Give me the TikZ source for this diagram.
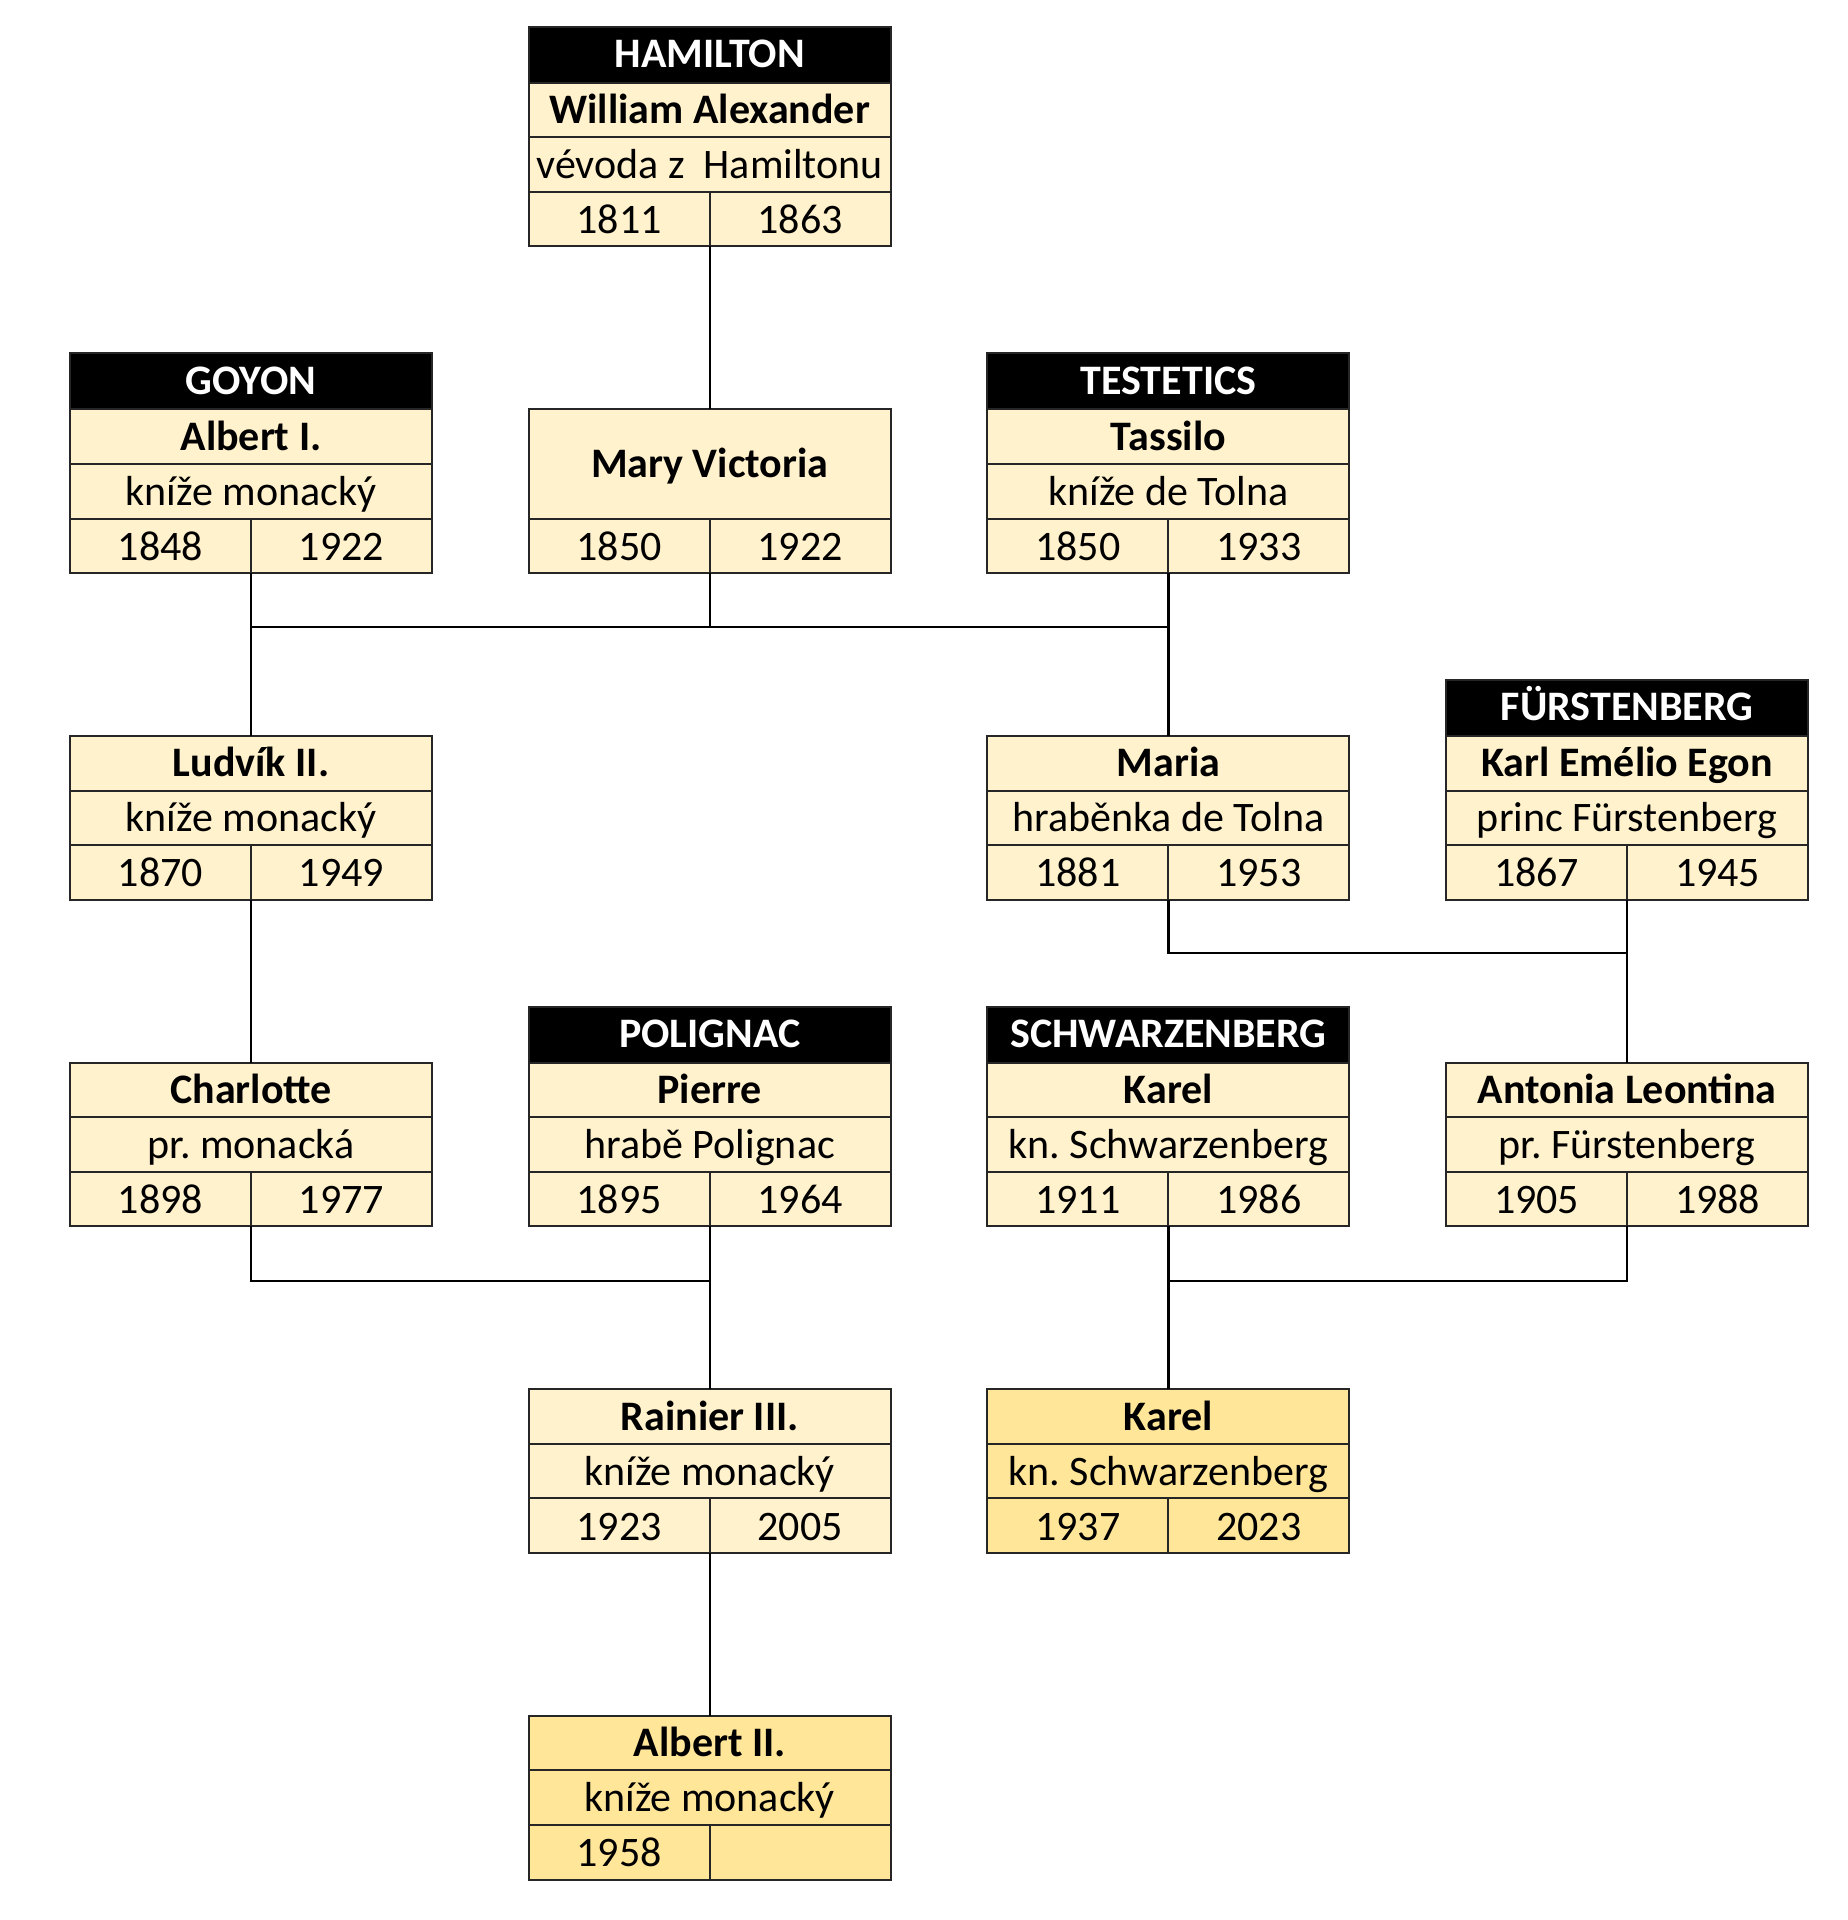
\documentclass[tikz,border=0pt]{standalone}
\usepackage{fontspec}
\setmainfont{Carlito}
\frenchspacing
\definecolor{cream}{HTML}{FFF2CC}
\definecolor{gold}{HTML}{FFE699}
\tikzset{
  x=0.5pt, y=-0.5pt,
  pbox/.style={draw=black!85, line width=1pt, minimum width=181pt, minimum height=81.9pt, inner sep=0pt, outer sep=0pt, anchor=north west},
  hbox/.style={draw=black!85, fill=black, line width=1pt, minimum width=181pt, minimum height=28pt, inner sep=0pt, outer sep=0pt, anchor=south west},
  grid/.style={draw=black!85, line width=1pt},
  conn/.style={draw=black, line width=1.1pt},
  tx/.style={anchor=base, inner sep=0pt, font=\fontsize{21}{23}\selectfont},
  nm/.style={tx, font=\fontsize{21}{23}\selectfont\bfseries},
  hd/.style={tx, text=white, font=\fontsize{21}{23}\selectfont\bfseries},
}
% #1 name, #2 left, #3 top, #4 fill, #5 first name, #6 title, #7 born, #8 died
\newcommand\personbox[8]{%
  \begin{scope}[shift={(#2,#3)}]
    \node[pbox, fill=#4] (#1) at (0,0) {};
    \draw[grid] (0,54.6) -- (362,54.6) (0,109.2) -- (362,109.2) (181,109.2) -- (181,163.8);
    \node[nm] (#1-n) at (181,41) {#5};
    \node[tx] (#1-t) at (181,96) {#6};
    \node[tx] (#1-b) at (90.5,151) {#7};
    \node[tx] (#1-d) at (271.5,151) {#8};
  \end{scope}}
% #1 name, #2 left, #3 top of person box, #4 family
\newcommand\familyhead[4]{%
  \begin{scope}[shift={(#2,#3)}]
    \node[hbox] (#1) at (0,0) {};
    \node[hd] (#1-f) at (181,-15) {#4};
  \end{scope}}
\begin{document}
\begin{tikzpicture}
\useasboundingbox[fill=white] (0,0) rectangle (1847,1920);
\coordinate (j1) at (0,627);
\coordinate (j2) at (0,953);
\coordinate (j3) at (0,1281);

% tier 1
\familyhead{hamh}{528.7}{82.7}{HAMILTON}
\personbox{hamilton}{528.7}{82.7}{cream}{William Alexander}{vévoda z\ \ Hamiltonu}{1811}{1863}

% tier 2
\familyhead{goyh}{70}{409.3}{GOYON}
\personbox{albert1}{70}{409.3}{cream}{Albert I.}{kníže monacký}{1848}{1922}
\begin{scope}[shift={(528.7,409.3)}]
  \node[pbox, fill=cream] (mary) at (0,0) {};
  \draw[grid] (0,109.2) -- (362,109.2) (181,109.2) -- (181,163.8);
  \node[nm] (mary-n) at (181,68) {Mary Victoria};
  \node[tx] (mary-b) at (90.5,151) {1850};
  \node[tx] (mary-d) at (271.5,151) {1922};
\end{scope}
\familyhead{testh}{987.4}{409.3}{TESTETICS}
\personbox{tassilo}{987.4}{409.3}{cream}{Tassilo}{kníže de Tolna}{1850}{1933}

% tier 3
\personbox{ludvik}{70}{735.9}{cream}{Ludvík II.}{kníže monacký}{1870}{1949}
\personbox{maria}{987.4}{735.9}{cream}{Maria}{hraběnka de Tolna}{1881}{1953}
\familyhead{fursth}{1446.1}{735.9}{FÜRSTENBERG}
\personbox{karlemil}{1446.1}{735.9}{cream}{Karl Emélio Egon}{princ Fürstenberg}{1867}{1945}

% tier 4
\personbox{charlotte}{70}{1062.5}{cream}{Charlotte}{pr. monacká}{1898}{1977}
\familyhead{polh}{528.7}{1062.5}{POLIGNAC}
\personbox{pierre}{528.7}{1062.5}{cream}{Pierre}{hrabě Polignac}{1895}{1964}
\familyhead{schh}{987.4}{1062.5}{SCHWARZENBERG}
\personbox{karel1}{987.4}{1062.5}{cream}{Karel}{kn. Schwarzenberg}{1911}{1986}
\personbox{antonia}{1446.1}{1062.5}{cream}{Antonia Leontina}{pr. Fürstenberg}{1905}{1988}

% tier 5
\personbox{rainier}{528.7}{1389.1}{cream}{Rainier III.}{kníže monacký}{1923}{2005}
\personbox{karel2}{987.4}{1389.1}{gold}{Karel}{kn. Schwarzenberg}{1937}{2023}

% tier 6
\personbox{albert2}{528.7}{1715.7}{gold}{Albert II.}{kníže monacký}{1958}{}

% connectors
\draw[conn] (hamilton.south) -- (mary.north);
\draw[conn] (albert1.south) -- (ludvik.north);
\draw[conn] (tassilo.south) -- (maria.north);
\draw[conn] (albert1.south |- j1) -- (tassilo.south |- j1);
\draw[conn] (mary.south) -- (mary.south |- j1);
\draw[conn] (ludvik.south) -- (charlotte.north);
\draw[conn] (maria.south) -- (maria.south |- j2) -- (karlemil.south |- j2);
\draw[conn] (karlemil.south) -- (antonia.north);
\draw[conn] (charlotte.south) -- (charlotte.south |- j3) -- (pierre.south |- j3);
\draw[conn] (pierre.south) -- (rainier.north);
\draw[conn] (antonia.south) -- (antonia.south |- j3) -- (karel1.south |- j3);
\draw[conn] (karel1.south) -- (karel2.north);
\draw[conn] (rainier.south) -- (albert2.north);
\end{tikzpicture}
\end{document}
